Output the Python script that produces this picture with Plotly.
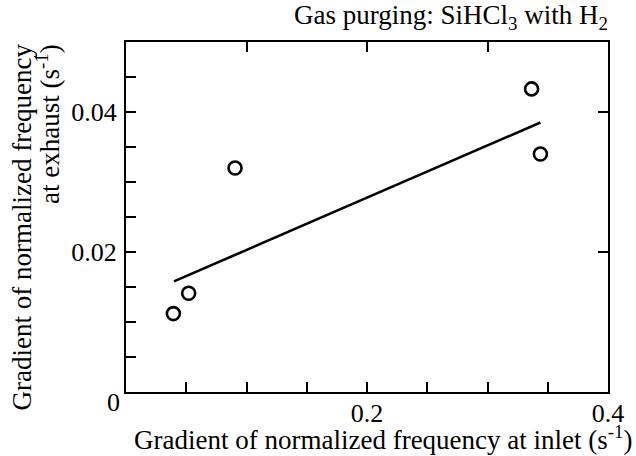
import plotly.graph_objects as go

# data
inlet_grad = [0.0393, 0.0520, 0.0905, 0.3366, 0.3439]
exhaust_grad = [0.0112, 0.0141, 0.0320, 0.0433, 0.0340]
fit_x = [0.0398, 0.3439]
fit_y = [0.0158, 0.0385]

x_tickvals = [0.05, 0.10, 0.15, 0.20, 0.25, 0.30, 0.35, 0.40]
x_ticktext = ["", "", "", "0.2", "", "", "", "0.4"]
x_top_tickvals = [0.1, 0.2, 0.3]
y_tickvals = [0.005, 0.010, 0.015, 0.020, 0.025, 0.030, 0.035, 0.040, 0.045]
y_ticktext = ["", "", "", "0.02", "", "", "", "0.04", ""]
y_right_tickvals = [0.02, 0.04]

FONT = "Liberation Serif, Times New Roman, serif"
FS = 27
TFS = 26

fig = go.Figure()
fig.add_trace(go.Scatter(x=fit_x, y=fit_y, mode="lines",
                         line=dict(color="black", width=2.6), showlegend=False))
fig.add_trace(go.Scatter(x=inlet_grad, y=exhaust_grad, mode="markers",
                         marker=dict(symbol="circle-open", size=13, color="black",
                                     line=dict(width=2.6, color="black")),
                         showlegend=False))
# invisible trace to anchor the mirrored axes
fig.add_trace(go.Scatter(x=[0.2], y=[0.02], xaxis="x2", yaxis="y2", mode="markers",
                         marker=dict(opacity=0), showlegend=False, hoverinfo="skip"))

axis_common = dict(showline=True, linecolor="black", linewidth=2, ticks="inside",
                   tickcolor="black", tickwidth=2, ticklen=10, showgrid=False,
                   zeroline=False, tickfont=dict(family=FONT, size=TFS, color="black"))

fig.update_layout(
    width=636, height=456,
    margin=dict(l=126, r=18, t=42, b=64),
    paper_bgcolor="white", plot_bgcolor="white",
    font=dict(family=FONT, size=FS, color="black"),
    xaxis=dict(range=[0, 0.4], tickvals=x_tickvals, ticktext=x_ticktext,
               ticklabelstandoff=-3, **axis_common),
    yaxis=dict(range=[0, 0.05], tickvals=y_tickvals, ticktext=y_ticktext,
               ticklabelstandoff=2, **axis_common),
    xaxis2=dict(range=[0, 0.4], overlaying="x", side="top", tickvals=x_top_tickvals,
                showticklabels=False, **axis_common),
    yaxis2=dict(range=[0, 0.05], overlaying="y", side="right", tickvals=y_right_tickvals,
                showticklabels=False, **axis_common),
    annotations=[
        dict(text="Gas purging: SiHCl<sub>3</sub> with H<sub>2</sub>", xref="paper", yref="paper",
             x=1, y=1, xanchor="right", yanchor="middle", yshift=25, xshift=2, showarrow=False,
             font=dict(family=FONT, size=FS)),
        dict(text="0", xref="paper", yref="y", x=0, y=0, xanchor="right", yanchor="middle",
             xshift=-4, yshift=-10, showarrow=False, font=dict(family=FONT, size=TFS)),
        dict(text="Gradient of normalized frequency at inlet (s<sup>-1</sup>)", xref="paper",
             yref="paper", x=0.524, y=0, xanchor="center", yanchor="middle", yshift=-46,
             xshift=5, showarrow=False, font=dict(family=FONT, size=FS)),
        dict(text="Gradient of normalized frequency", xref="paper", yref="paper",
             x=0, y=1, xshift=-105, yshift=0, xanchor="center", yanchor="top",
             textangle=-90, showarrow=False, font=dict(family=FONT, size=FS)),
        dict(text="at exhaust (s<sup>-1</sup>)", xref="paper", yref="paper",
             x=0, y=1, xshift=-78, yshift=0, xanchor="center", yanchor="top",
             textangle=-90, showarrow=False, font=dict(family=FONT, size=FS)),
    ],
)

fig.write_html("out.html", config={"displayModeBar": False},
               post_script="document.body.style.margin='0';document.body.style.overflow='hidden';")
